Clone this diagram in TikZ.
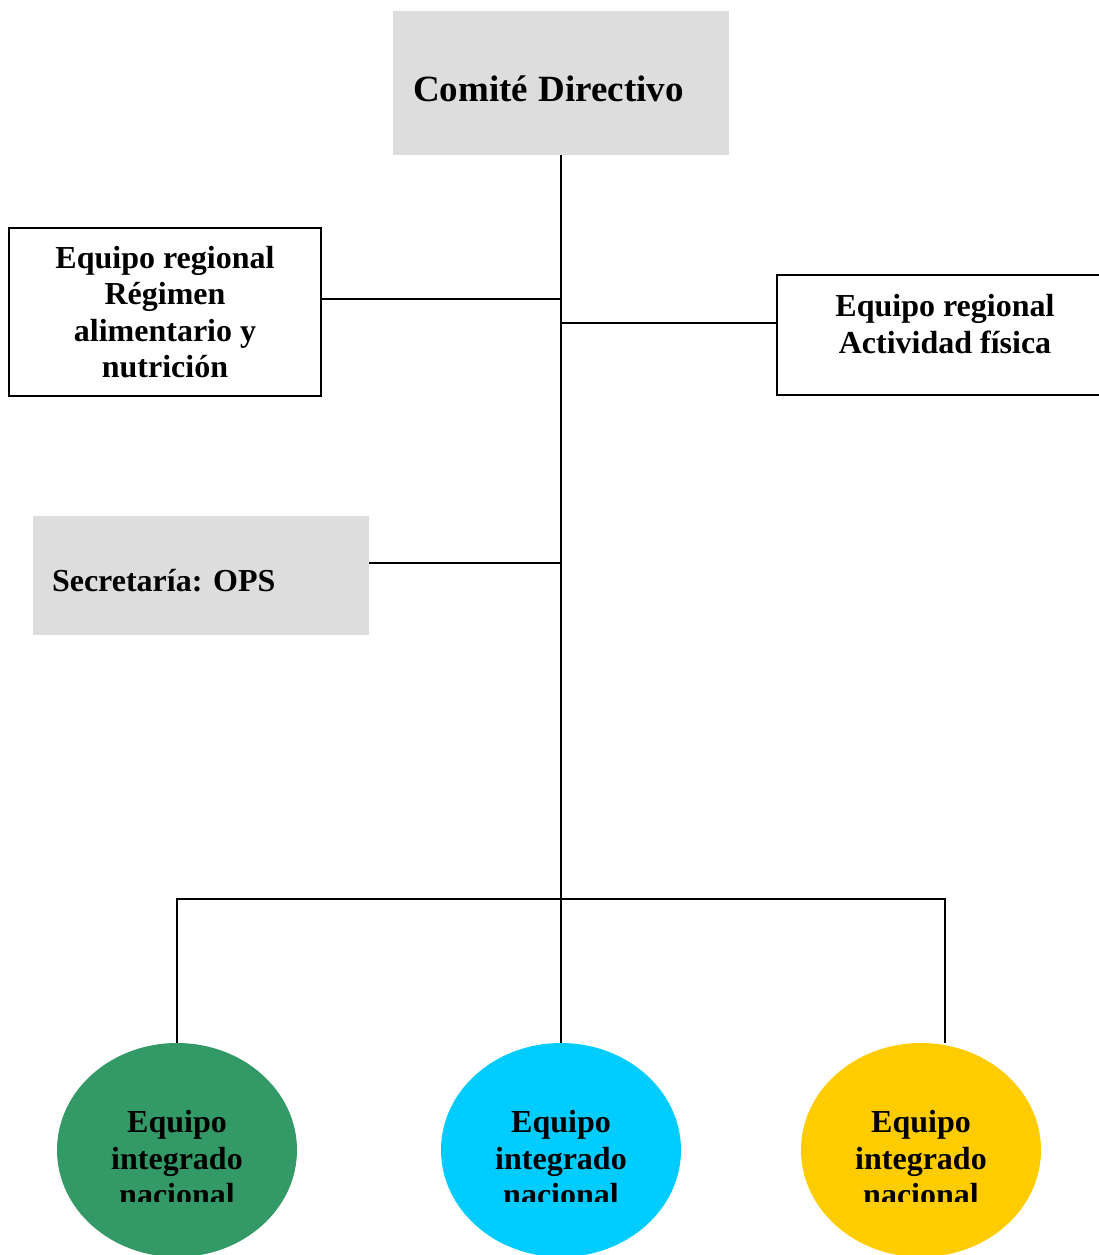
\documentclass[tikz,border=0pt]{standalone}
\usepackage{fontspec}
\setmainfont{Liberation Serif}
\usetikzlibrary{shapes.geometric}
\definecolor{boxgray}{HTML}{DDDDDD}
\definecolor{teamgreen}{HTML}{339966}
\definecolor{teamcyan}{HTML}{00CCFF}
\definecolor{teamyellow}{HTML}{FFCC00}
\tikzset{
  boxtext/.style={font=\bfseries\frenchspacing\fontsize{32}{36.5}\selectfont},
  graybox/.style={boxtext, fill=boxgray, align=left, inner ysep=0pt},
  framebox/.style={boxtext, draw, line width=1.6pt, fill=white, align=center},
  teamblob/.style={ellipse, minimum width=240pt, minimum height=214pt, inner sep=0pt},
  link/.style={line width=1.6pt},
}

\begin{document}
\begin{tikzpicture}[x=1pt,y=-1pt]
  \useasboundingbox (0,0) rectangle (1099,1255);
  % boxes
  \node[graybox, text width=296pt, inner xsep=20pt, minimum height=144pt, text height=38pt] (comite) at (561,83)
    {\fontsize{37}{42}\selectfont Comité Directivo};
  \node[framebox, minimum width=312pt, minimum height=168pt] (regimen) at (165,312)
    {Equipo regional\\Régimen\\alimentario y\\nutrición};
  \node[framebox, minimum width=336pt, minimum height=120pt] (fisica) at (945,335) {};
  \node[boxtext, align=center, inner sep=0pt] (fisicatxt) at (945,324)
    {Equipo regional\\Actividad física};
  \node[graybox, text width=298pt, inner xsep=19pt, minimum height=119pt, text height=32.5pt] (ops) at (201,575.5)
    {Secretaría: OPS};
  % national teams
  \foreach \name/\col/\x in {eq1/teamgreen/177, eq2/teamcyan/561, eq3/teamyellow/921}
    \node[teamblob, fill=\col] (\name) at (\x,1150) {};
  \begin{scope}
    \clip (0,0) rectangle (1099,1201);
    \foreach \name in {eq1,eq2,eq3}
      \node[boxtext, align=center, inner sep=0pt, yshift=-8.5pt] (\name-txt) at (\name.center)
        {Equipo\\integrado\\nacional};
  \end{scope}
  % connectors
  \coordinate (j1) at (561,299);
  \coordinate (j2) at (561,323);
  \coordinate (j3) at (561,563);
  \coordinate (bus) at (561,899);
  \draw[link] (comite.south) -- (eq2.north);
  \draw[link] (j1) -- (j1 -| regimen.east);
  \draw[link] (j2) -- (j2 -| fisica.west);
  \draw[link] (j3) -- (j3 -| ops.east);
  \draw[link] (eq1.north) |- (bus) -| ([xshift=24pt]eq3.north);
\end{tikzpicture}
\end{document}
